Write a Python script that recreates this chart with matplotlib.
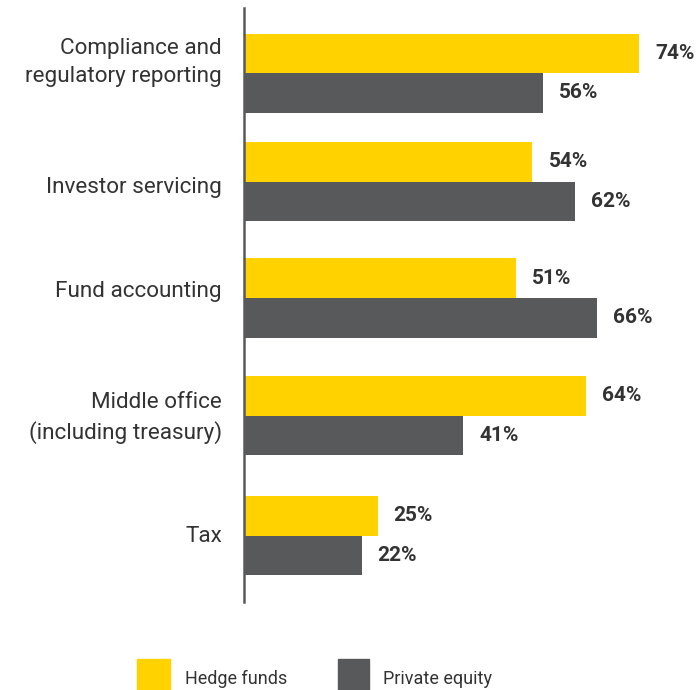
import matplotlib.pyplot as plt
import numpy as np
from matplotlib.patches import Rectangle

categories = ['Compliance and\nregulatory reporting', 'Investor servicing',
              'Fund accounting', 'Middle office\n(including treasury)', 'Tax']
hedge_funds = [74, 54, 51, 64, 25]
private_equity = [56, 62, 66, 41, 22]
series_names = ['Hedge funds', 'Private equity']

yellow = '#FFD200'
grey = '#58595B'
txt = '#333333'

plt.rcParams['font.family'] = ['Roboto', 'DejaVu Sans']

fig = plt.figure(figsize=(6.98, 6.90), dpi=100)
ax = fig.add_axes([244 / 698, 1 - 602 / 690, 1 - 244 / 698, 594 / 690])

# group centres (uneven spacing as in the original layout)
y = np.array([0, 0.927, 1.923, 2.927, 3.953])
label_y = np.array([-0.145, 0.957, 1.846, 2.889, 3.94])
h = 0.338
ax.barh(y - h / 2, hedge_funds, height=h, color=yellow)
ax.barh(y + h / 2, private_equity, height=h, color=grey)

for i in range(len(categories)):
    ax.text(hedge_funds[i] + 3, y[i] - h / 2, '%d%%' % hedge_funds[i], va='center', ha='left',
            fontsize=15, fontweight='bold', color=txt)
    ax.text(private_equity[i] + 3, y[i] + h / 2, '%d%%' % private_equity[i], va='center', ha='left',
            fontsize=15, fontweight='bold', color=txt)

ax.set_xlim(0, 85)
ax.set_ylim(4.521, -0.556)
ax.set_yticks(label_y)
ax.set_yticklabels(categories, fontsize=16.2, color=txt, linespacing=1.45)
ax.tick_params(axis='y', length=0, pad=16)
ax.set_xticks([])
for s in ['top', 'right', 'bottom']:
    ax.spines[s].set_visible(False)
ax.spines['left'].set_color(grey)
ax.spines['left'].set_linewidth(1.8)

# legend
fig.add_artist(Rectangle((137 / 698, 0), 33 / 698, 31 / 690, transform=fig.transFigure, color=yellow))
fig.add_artist(Rectangle((338 / 698, 0), 31 / 698, 31 / 690, transform=fig.transFigure, color=grey))
fig.text(185 / 698, 1 - 679 / 690, series_names[0], va='center', ha='left', fontsize=13, color=txt)
fig.text(383 / 698, 1 - 679 / 690, series_names[1], va='center', ha='left', fontsize=13, color=txt)

fig.savefig('out.png', dpi=100)
